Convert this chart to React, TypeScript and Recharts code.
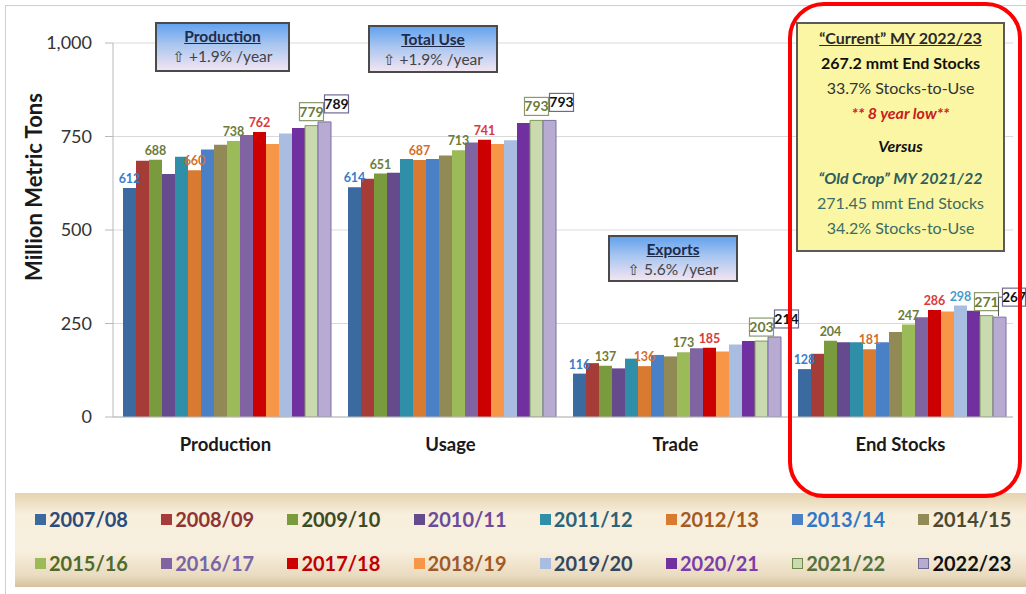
import React from "react";
import { BarChart, Bar, XAxis, YAxis, CartesianGrid, LabelList } from "recharts";

const categories = ["Production", "Usage", "Trade", "End Stocks"];

const years = [
  "2007/08", "2008/09", "2009/10", "2010/11", "2011/12", "2012/13", "2013/14", "2014/15",
  "2015/16", "2016/17", "2017/18", "2018/19", "2019/20", "2020/21", "2021/22", "2022/23",
];

// million metric tons, one value per marketing year
const production = [612, 685, 688, 650, 696, 660, 715, 728, 738, 754, 762, 730, 758, 773, 779, 789];
const usage = [614, 637, 651, 653, 690, 687, 690, 699, 713, 734, 741, 730, 740, 786, 793, 793];
const trade = [116, 144, 137, 130, 156, 136, 166, 162, 173, 184, 185, 175, 194, 203, 203, 214];
const endStocks = [128, 169, 204, 200, 200, 181, 200, 227, 247, 267, 286, 282, 298, 284, 271, 267];

const yTicks = [0, 250, 500, 750, 1000];

const barColors = [
  "#3B6AA0", "#A53C38", "#7A9A3E", "#654A8E", "#2F8EA8", "#D87B31", "#4A80C5", "#928A55",
  "#9BBB59", "#8064A2", "#CC0000", "#F79646", "#A9BDE0", "#7030A0", "#C9DBAE", "#B7ABD2",
];
const legendText = [
  "#2A4B7C", "#8E3533", "#3D4A22", "#6C4C9A", "#2C6378", "#A55A24", "#2F78C8", "#4A4A32",
  "#4E6B2A", "#7A64A8", "#C00000", "#A05A26", "#34475E", "#7B3DAA", "#56703A", "#111111",
];
// data label colour per series; "box" = boxed label, null = no label
const labelColors: (string | null)[] = [
  "#3A7CC9", null, "#6B7B3A", null, null, "#D2702A", null, null,
  "#6B7B3A", null, "#D83A3A", null, "#4A9CC8", null, "box", "box",
];
// series that only get a label on some categories
const labelOnly: Record<number, number[]> = { 12: [3] };

const seriesByCategory = [production, usage, trade, endStocks];
const data = categories.map((name, ci) => {
  const row: Record<string, string | number> = { name };
  years.forEach((_, si) => {
    row[`s${si}`] = seriesByCategory[ci][si];
  });
  return row;
});

const font = "Lato, 'DejaVu Sans', sans-serif";

function makeLabel(si: number) {
  return (props: any) => {
    const vb = props.viewBox || props;
    const x = Number(vb.x ?? props.x);
    const y = Number(vb.y ?? props.y);
    const w = Number(vb.width ?? props.width);
    const idx = props.index;
    const color = labelColors[si];
    if (!color) return null;
    if (labelOnly[si] && !labelOnly[si].includes(idx)) return null;
    const cx = x + w / 2;
    if (color !== "box") {
      return (
        <text x={cx} y={y - 5} textAnchor="middle" fill={color} fontSize={12.5} fontWeight={700} fontFamily={font}>
          {props.value}
        </text>
      );
    }
    const latest = si === 15;
    const edge = latest && idx === 3;
    const bw = edge ? 23 : 24;
    const bh = 18;
    const shift = latest ? (edge ? 3 : 0) : -bw / 2;
    const left = cx + shift;
    const top = latest ? y - (edge ? 29 : 27) : y - 23;
    return (
      <g>
        {edge ? (
          <polyline
            points={`${cx - 1},${y - 1} ${cx - 1},${top + 9} ${left},${top + 9}`}
            fill="none"
            stroke="#555"
            strokeWidth={1}
          />
        ) : null}
        <rect x={left} y={top} width={bw} height={bh} fill="#fff" stroke={latest ? "#6E6A8E" : "#8A9A6A"} strokeWidth={1.2} />
        <text
          x={left + bw / 2}
          y={top + 14}
          textAnchor="middle"
          fill={latest ? "#111" : "#6B7B3A"}
          fontSize={edge ? 13.5 : 14}
          fontWeight={700}
          fontFamily={font}
        >
          {props.value}
        </text>
      </g>
    );
  };
}

function AxisTitle(props: any) {
  const vb = props.viewBox || {};
  const x = vb.x - 20;
  const y = vb.y + vb.height / 2 - 43;
  return (
    <text
      x={x}
      y={y}
      transform={`rotate(-90 ${x} ${y})`}
      textAnchor="middle"
      dominantBaseline="central"
      fontSize={22}
      fontWeight={700}
      fill="#1a1a1a"
      fontFamily={font}
    >
      Million Metric Tons
    </text>
  );
}

function TrendBox({ left, top, width, height, title, rate }: any) {
  return (
    <div
      style={{
        position: "absolute",
        left,
        top,
        width,
        height,
        boxSizing: "border-box",
        border: "2px solid #4a4a4a",
        background: "linear-gradient(to bottom, #64A2EE 0%, #A9C6F0 45%, #F2E4F2 100%)",
        textAlign: "center",
        fontFamily: font,
        fontSize: 15.5,
        lineHeight: "20px",
        paddingTop: 2,
      }}
    >
      <div style={{ fontWeight: 700, textDecoration: "underline", color: "#1D2B4A" }}>{title}</div>
      <div style={{ color: "#444" }}>
        <span style={{ fontFamily: "'DejaVu Sans', sans-serif", fontSize: 15 }}>⇧</span> {rate}
      </div>
    </div>
  );
}

const noteLines: { text: string; y: number; style: React.CSSProperties }[] = [
  { text: "“Current” MY 2022/23", y: 38, style: { fontWeight: 700, textDecoration: "underline", color: "#2a2a2a" } },
  { text: "267.2 mmt End Stocks", y: 63, style: { fontWeight: 700, color: "#111" } },
  { text: "33.7% Stocks-to-Use", y: 88, style: { color: "#333" } },
  { text: "** 8 year low**", y: 113, style: { fontWeight: 700, fontStyle: "italic", color: "#C8201C" } },
  { text: "Versus", y: 146, style: { fontWeight: 700, fontStyle: "italic", color: "#111" } },
  { text: "“Old Crop” MY 2021/22", y: 178, style: { fontWeight: 700, fontStyle: "italic", color: "#2E5E5C" } },
  { text: "271.45 mmt End Stocks", y: 203, style: { color: "#3B6B62" } },
  { text: "34.2% Stocks-to-Use", y: 228, style: { color: "#3B6B62" } },
];

export default function App() {
  return (
    <div
      style={{
        position: "absolute",
        left: 0,
        top: 0,
        width: 1026,
        height: 594,
        background: "#fff",
        overflow: "hidden",
        fontFamily: font,
      }}
    >
      <div
        style={{
          position: "absolute",
          left: 5,
          top: 5,
          width: 1030,
          height: 600,
          borderTop: "1.5px solid #CFCFCF",
          borderLeft: "1.5px solid #CFCFCF",
        }}
      />
      <BarChart
        width={1026}
        height={594}
        data={data}
        margin={{ top: 43, right: 13, bottom: 137, left: 53 }}
        barCategoryGap={10}
        barGap={0}
        style={{ position: "absolute", left: 0, top: 0 }}
      >
        <CartesianGrid stroke="#D9D9D9" vertical={false} />
        <XAxis
          dataKey="name"
          height={40}
          axisLine={{ stroke: "#B8B8B8" }}
          tickLine={false}
          tickSize={0}
          tickMargin={21}
          tick={{ fontSize: 18.5, fontWeight: 700, fill: "#1a1a1a", fontFamily: font }}
        />
        <YAxis
          width={60}
          domain={[0, 1000]}
          ticks={yTicks}
          allowDataOverflow
          axisLine={{ stroke: "#B8B8B8" }}
          tickLine={{ stroke: "#B8B8B8" }}
          tickSize={8}
          tickMargin={13}
          tickFormatter={(v: number) => v.toLocaleString("en-US")}
          tick={{ fontSize: 18, fill: "#333", fontFamily: font }}
          label={<AxisTitle />}
        />
        {years.map((yr, si) => (
          <Bar
            key={yr}
            dataKey={`s${si}`}
            name={yr}
            fill={barColors[si]}
            stroke={si === 14 ? "#7F9A5A" : si === 15 ? "#7D6FA5" : undefined}
            strokeWidth={si >= 14 ? 1 : 0}
            isAnimationActive={false}
          >
            {labelColors[si] ? <LabelList dataKey={`s${si}`} content={makeLabel(si)} /> : null}
          </Bar>
        ))}
      </BarChart>

      <TrendBox left={155} top={22} width={135} height={50} title="Production" rate="+1.9% /year" />
      <TrendBox left={368} top={25} width={130} height={48} title="Total Use" rate="+1.9% /year" />
      <TrendBox left={608} top={235} width={130} height={47} title="Exports" rate="5.6% /year" />

      <div
        style={{
          position: "absolute",
          left: 796,
          top: 22,
          width: 209,
          height: 230,
          boxSizing: "border-box",
          border: "2px solid #5a5a5a",
          background: "#FBF6A4",
        }}
      />
      {noteLines.map((l) => (
        <div
          key={l.text}
          style={{
            position: "absolute",
            left: 796,
            width: 209,
            top: l.y - 10,
            height: 20,
            lineHeight: "20px",
            textAlign: "center",
            fontSize: 16,
            fontFamily: font,
            ...l.style,
          }}
        >
          {l.text}
        </div>
      ))}

      <div
        style={{
          position: "absolute",
          left: 15,
          top: 493,
          width: 1011,
          height: 94,
          background: "linear-gradient(to bottom, #E6D3AF 0%, #F7EEDB 22%, #F8F0DF 60%, #EADBC0 88%, #D5C19C 100%)",
        }}
      >
        {years.map((yr, si) => {
          const col = si % 8;
          const row = Math.floor(si / 8);
          return (
            <div
              key={yr}
              style={{
                position: "absolute",
                left: 20 + col * 126.2,
                top: 26 + row * 44 - 12,
                height: 24,
                display: "flex",
                alignItems: "center",
                whiteSpace: "nowrap",
              }}
            >
              <span
                style={{
                  display: "inline-block",
                  width: 11,
                  height: 11,
                  background: barColors[si],
                  boxSizing: "border-box",
                  border: si >= 14 ? `1px solid ${si === 14 ? "#6F8A4A" : "#6E6A8E"}` : "none",
                  marginRight: 3,
                }}
              />
              <span style={{ fontSize: 20, fontWeight: 700, color: legendText[si], fontFamily: font }}>{yr}</span>
            </div>
          );
        })}
      </div>

      <div
        style={{
          position: "absolute",
          left: 788,
          top: 2,
          width: 234,
          height: 496,
          boxSizing: "border-box",
          border: "4px solid #FF0000",
          borderRadius: 36,
        }}
      />
    </div>
  );
}
